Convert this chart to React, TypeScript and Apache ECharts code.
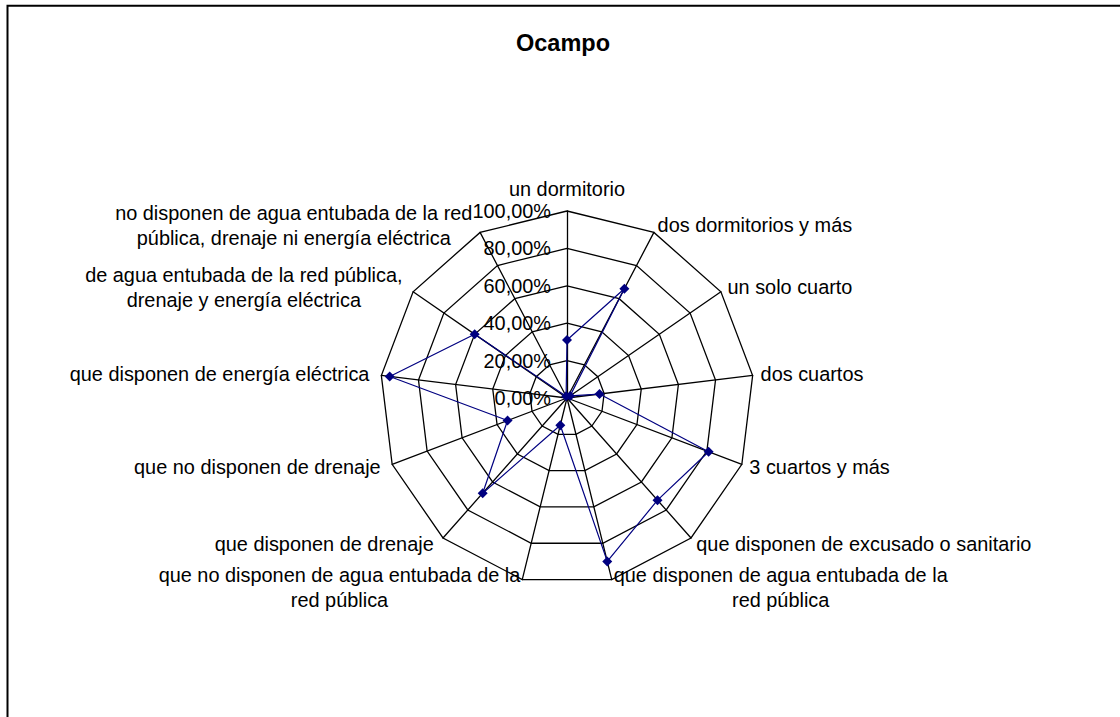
import React, { useEffect, useRef } from 'react';
import * as echarts from 'echarts';

const chartTitle = 'Ocampo';
const categories: string[] = [
  'un dormitorio',
  'dos dormitorios y más',
  'un solo cuarto',
  'dos cuartos',
  '3 cuartos y más',
  'que disponen de excusado o sanitario',
  'que disponen de agua entubada de la\nred pública',
  'que no disponen de agua entubada de la\nred pública',
  'que disponen de drenaje',
  'que no disponen de drenaje',
  'que disponen de energía eléctrica',
  'de agua entubada de la red pública,\ndrenaje y energía eléctrica',
  'no disponen de agua entubada de la red\npública, drenaje ni energía eléctrica',
];
const values: number[] = [31, 66, 2, 17.5, 81, 73, 90, 15, 68, 34, 95.5, 60, 1];
const axisMin = 0;
const axisMax = 100;
const splitCount = 5;

const FONT = '"Liberation Sans", Arial, sans-serif';
const FS = 19.9;
const LH = 25;

export default function App() {
  const ref = useRef<HTMLDivElement>(null);
  useEffect(() => {
    if (!ref.current) return;
    const chart = echarts.init(ref.current, undefined, { renderer: 'svg' });
    // ECharts places radar indicators counter-clockwise; reorder so they read clockwise.
    const order = categories.map((_, i) => (i === 0 ? 0 : categories.length - i));
    const indicator = order.map((i, k) => {
      const ind: any = { name: categories[i], min: axisMin, max: axisMax };
      if (k === 0) ind.axisLabel = { show: true };
      return ind;
    });
    const base = { color: '#000', fontFamily: FONT, fontSize: FS, lineHeight: LH };
    chart.setOption({
      animation: false,
      backgroundColor: '#fff',
      title: {
        text: chartTitle,
        left: 563,
        top: 31,
        textAlign: 'center',
        padding: 0,
        textStyle: { fontFamily: FONT, fontSize: 23.5, fontWeight: 'bold', color: '#000' },
      },
      graphic: [
        {
          type: 'rect',
          shape: { x: 7.5, y: 5.8, width: 1300, height: 900 },
          style: { fill: 'none', stroke: '#000', lineWidth: 2 },
          silent: true,
        },
      ],
      radar: {
        center: [567, 398],
        radius: 187,
        startAngle: 90,
        splitNumber: splitCount,
        shape: 'polygon',
        nameGap: 8,
        indicator,
        axisName: {
          ...base,
          formatter: (n: string) => {
            const idx = categories.indexOf(n);
            const leftSide = idx >= 8;
            const multi = n.indexOf('\n') >= 0;
            const style = (multi ? 'c' : 's') + (leftSide ? 'L' : '');
            return `{${style}|${n}}`;
          },
          rich: {
            s: { ...base },
            sL: { ...base, padding: [0, 4, 0, 0] },
            c: { ...base, align: 'center' },
            cL: { ...base, align: 'center', padding: [0, 4, 0, 0] },
          },
        },
        axisLine: { show: true, lineStyle: { color: '#000', width: 1.3 } },
        splitLine: { show: true, lineStyle: { color: '#000', width: 1.3 } },
        splitArea: { show: false },
        axisTick: { show: false },
        axisLabel: {
          show: false,
          color: '#000',
          fontFamily: FONT,
          fontSize: FS,
          margin: 16,
          formatter: (v: number) => Number(v).toFixed(2).replace('.', ',') + '%',
        },
      },
      series: [
        {
          type: 'radar',
          name: chartTitle,
          symbol: 'diamond',
          symbolSize: 10,
          lineStyle: { color: '#000080', width: 1.2 },
          itemStyle: { color: '#000080' },
          data: [{ name: chartTitle, value: order.map((i) => values[i]) }],
        },
      ],
    });
    return () => chart.dispose();
  }, []);
  return (
    <div
      ref={ref}
      style={{ position: 'absolute', left: 0, top: 0, width: 1120, height: 717, background: '#fff' }}
    />
  );
}
